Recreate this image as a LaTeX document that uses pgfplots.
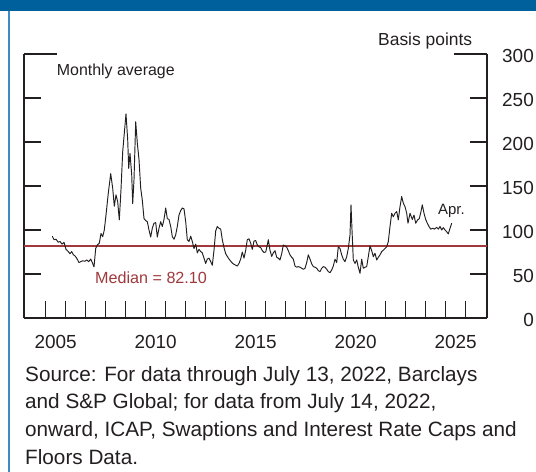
\documentclass[border=0pt]{standalone}
\usepackage{fontspec}
\setmainfont{Liberation Sans}
\usepackage{pgfplots}
\pgfplotsset{compat=1.18}
\definecolor{fedblue}{HTML}{00609B}
\definecolor{edgeblue}{HTML}{3E8CC6}
\definecolor{medred}{HTML}{A0383C}
\definecolor{ink}{HTML}{231F20}

\begin{document}
\begin{tikzpicture}
\path[use as bounding box] (0bp,0bp) rectangle (536bp,472bp);
\fill[fedblue] (0bp,461bp) rectangle (536bp,472bp);
\draw[edgeblue, line width=1.4bp] (8.8bp,0bp) -- (8.8bp,461bp);
\begin{axis}[
  at={(24bp,154bp)}, anchor=south west,
  scale only axis, width=463bp, height=264bp,
  xmin=2003.915, xmax=2027.065, ymin=0, ymax=300,
  axis x line*=bottom, axis y line*=box,
  axis line style={-, line width=1.3bp, ink},
  tick align=inside, major tick length=17bp,
  tick style={ink, line width=1.2bp},
  xtick pos=bottom, ytick pos=both, yticklabel pos=right,
  xtick={2005,...,2026}, xticklabels={},
  extra x ticks={2005.5,2010.5,2015.5,2020.5,2025.5},
  extra x tick labels={2005,2010,2015,2020,2025},
  extra x tick style={major tick length=0pt},
  ytick={0,50,...,300},
  extra y ticks={300}, extra y tick labels={},
  extra y tick style={major tick length=33bp},
  /pgf/number format/assume math mode=true,
  xticklabel style={anchor=north, inner sep=0pt, yshift=-17.5bp, font=\fontsize{19}{19}\selectfont, text=ink},
  yticklabel style={anchor=east, inner sep=0pt, xshift=47bp, yshift=-1.5bp, font=\fontsize{19}{19}\selectfont, text=ink},
  clip=false,
]
% median
\addplot[draw=medred, line width=1.7bp] coordinates {(2003.915,82.1) (2027.065,82.1)};
% monthly average, basis points
\addplot[ink, line width=0.95bp, line join=round] coordinates {
(2005.33,93) (2005.415,89) (2005.515,89.5) (2005.63,86) (2005.715,87) (2005.815,84) (2005.915,86)
(2006.015,78) (2006.13,75.5) (2006.215,73) (2006.30,75.5) (2006.38,72) (2006.465,70.5) (2006.55,68)
(2006.665,63) (2006.75,64) (2006.85,65) (2006.965,64.5)
(2007.05,66) (2007.15,64) (2007.25,67) (2007.33,63) (2007.415,58) (2007.50,79) (2007.58,83)
(2007.68,85) (2007.765,96) (2007.85,92.5) (2007.93,100)
(2008.015,117) (2008.13,142) (2008.25,164) (2008.35,147.5) (2008.43,127) (2008.515,140) (2008.60,132)
(2008.68,111.5) (2008.765,146) (2008.85,189) (2008.93,210)
(2009.015,232) (2009.10,202.5) (2009.15,170) (2009.215,187) (2009.30,163) (2009.35,130) (2009.415,157)
(2009.50,223) (2009.58,199) (2009.665,180) (2009.75,147.5) (2009.83,134) (2009.915,113)
(2010.0,110.7) (2010.08,109.5) (2010.165,100) (2010.25,92) (2010.33,102) (2010.415,107.7) (2010.50,108.4)
(2010.58,92) (2010.665,102) (2010.75,109.5) (2010.83,104) (2010.915,112)
(2011.0,125) (2011.08,113) (2011.165,112) (2011.25,104) (2011.33,92.5) (2011.415,89.5) (2011.50,94.5)
(2011.58,104) (2011.665,117) (2011.75,122) (2011.83,125) (2011.915,124)
(2012.0,109.5) (2012.08,89) (2012.165,87) (2012.25,93) (2012.33,87) (2012.415,79) (2012.50,84)
(2012.58,74) (2012.665,78) (2012.75,75.5) (2012.83,74) (2012.915,68)
(2013.0,62) (2013.08,67) (2013.165,68) (2013.25,64) (2013.33,60) (2013.415,77) (2013.50,99)
(2013.58,104) (2013.665,102) (2013.75,101) (2013.83,89) (2013.915,80)
(2014.0,73) (2014.08,70) (2014.165,67) (2014.25,64.5) (2014.33,62.5) (2014.415,61) (2014.50,60)
(2014.58,59) (2014.665,62) (2014.75,67) (2014.83,75) (2014.915,68)
(2015.0,77) (2015.08,89) (2015.165,90) (2015.25,85) (2015.33,78) (2015.415,87.5) (2015.5,88)
(2015.58,83) (2015.665,81) (2015.75,80) (2015.83,76.5) (2015.915,74.5)
(2016.0,75) (2016.08,83) (2016.13,89) (2016.215,77) (2016.30,70) (2016.38,74) (2016.465,76.5)
(2016.55,69) (2016.63,68) (2016.715,66) (2016.80,73) (2016.88,83) (2016.965,82)
(2017.05,80.4) (2017.13,76.5) (2017.215,71.7) (2017.30,69) (2017.38,67) (2017.465,59) (2017.55,57.7)
(2017.63,58.4) (2017.715,57.7) (2017.80,56.5) (2017.88,55.4) (2017.965,56.5)
(2018.05,63) (2018.13,71.7) (2018.215,67) (2018.30,61.5) (2018.38,58.4) (2018.465,57.7) (2018.55,56.5)
(2018.63,53.8) (2018.715,52.7) (2018.80,56.5) (2018.88,58.4) (2018.965,57.7)
(2019.05,55.4) (2019.13,52.7) (2019.215,51.5) (2019.30,54.6) (2019.38,59) (2019.465,66.8) (2019.55,63)
(2019.63,81) (2019.715,79) (2019.80,71.7) (2019.88,66.8) (2019.965,64)
(2020.05,69.7) (2020.13,79) (2020.215,94.4) (2020.265,128.6) (2020.315,100) (2020.38,66) (2020.465,62)
(2020.55,66) (2020.63,57.7) (2020.715,50.8) (2020.80,66.8) (2020.88,56.5) (2020.965,57.7)
(2021.05,58.4) (2021.13,69.7) (2021.215,82) (2021.30,76.5) (2021.38,69.7) (2021.465,73.6) (2021.55,66)
(2021.63,69) (2021.715,71.7) (2021.80,75.5) (2021.88,77) (2021.965,79)
(2022.05,81) (2022.13,86.8) (2022.215,104) (2022.30,119) (2022.38,115) (2022.465,119) (2022.55,121)
(2022.63,111.5) (2022.715,126.6) (2022.80,138) (2022.88,130.5) (2022.965,126.6)
(2023.05,119) (2023.115,107.7) (2023.215,119) (2023.33,112) (2023.415,117) (2023.50,107.7) (2023.60,111.5)
(2023.68,113) (2023.765,121) (2023.83,128.6) (2023.915,119)
(2024.0,112) (2024.08,107.7) (2024.165,104) (2024.25,101) (2024.35,102) (2024.43,101) (2024.55,103)
(2024.63,101) (2024.715,104) (2024.80,100) (2024.88,102.7) (2024.965,100)
(2025.05,98) (2025.13,95.6) (2025.215,102) (2025.30,107.7)
};
\end{axis}
\node[anchor=base west, inner sep=0pt, text=ink, font=\fontsize{16}{16}\selectfont] at (56.7bp,396bp) {Monthly average};
\node[anchor=base west, inner sep=0pt, text=ink, font=\fontsize{17.5}{17.5}\selectfont] at (378bp,426bp) {Basis points};
\node[anchor=base west, inner sep=0pt, text=medred, font=\fontsize{16.2}{16.2}\selectfont] at (95bp,188bp) {Median = 82.10};
\node[anchor=base west, inner sep=0pt, text=ink, font=\fontsize{15}{15}\selectfont] at (438bp,257bp) {Apr.};
\begin{scope}[every node/.style={anchor=base west, inner sep=0pt, text=ink, font=\fontsize{20.8}{20.8}\selectfont}]
\node at (25bp,90.3bp) {Source: For data through July 13, 2022, Barclays};
\node at (25bp,63bp) {and S\&P Global; for data from July 14, 2022,};
\node at (25bp,35.5bp) {onward, ICAP, Swaptions and Interest Rate Caps and};
\node at (25bp,8bp) {Floors Data.};
\end{scope}
\end{tikzpicture}
\end{document}
